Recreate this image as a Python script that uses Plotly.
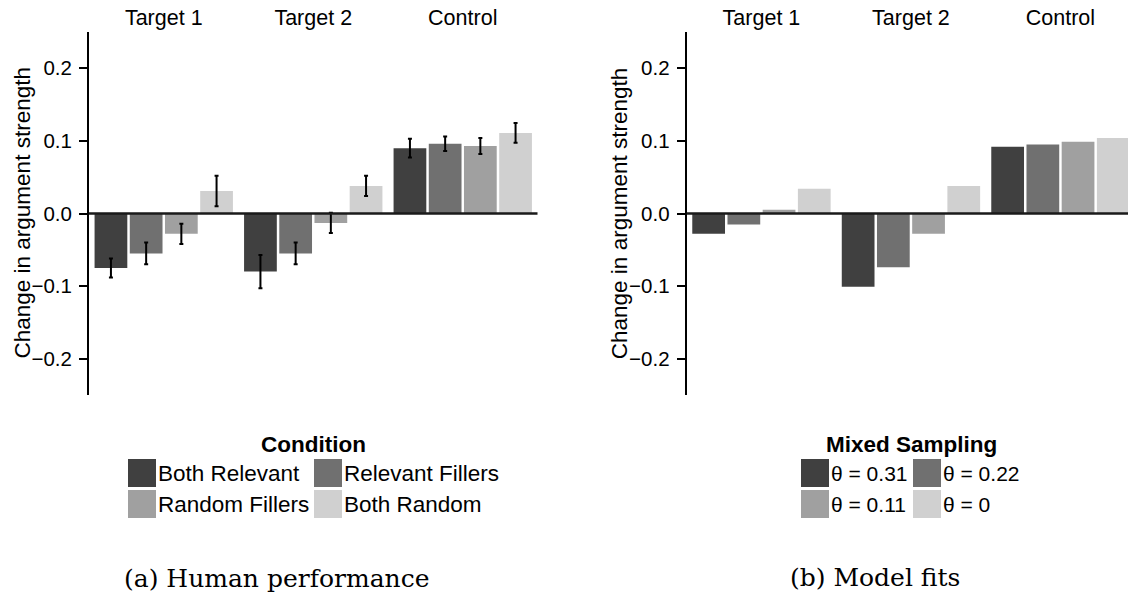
import plotly.graph_objects as go

W, H = 1128, 596

groups = ["Target 1", "Target 2", "Control"]
colors = ["#404040", "#707070", "#A0A0A0", "#D0D0D0"]
ytitle = "Change in argument strength"

# Panel (a): human performance
human_names = ["Both Relevant", "Relevant Fillers", "Random Fillers", "Both Random"]
human_both_relevant = [-0.075, -0.080, 0.090]
human_relevant_fillers = [-0.055, -0.055, 0.096]
human_random_fillers = [-0.028, -0.013, 0.093]
human_both_random = [0.031, 0.038, 0.111]
human_err_both_relevant = [0.013, 0.023, 0.013]
human_err_relevant_fillers = [0.015, 0.015, 0.010]
human_err_random_fillers = [0.014, 0.014, 0.011]
human_err_both_random = [0.021, 0.014, 0.0135]

# Panel (b): model fits
model_names = ["θ = 0.31", "θ = 0.22", "θ = 0.11", "θ = 0"]
model_031 = [-0.028, -0.101, 0.092]
model_022 = [-0.015, -0.074, 0.095]
model_011 = [0.005, -0.028, 0.099]
model_000 = [0.034, 0.038, 0.104]

yticks = [-0.2, -0.1, 0.0, 0.1, 0.2]
yticktext = ["\u22120.2", "\u22120.1", "0.0", "0.1", "0.2"]

human_vals = [human_both_relevant, human_relevant_fillers, human_random_fillers, human_both_random]
human_errs = [human_err_both_relevant, human_err_relevant_fillers, human_err_random_fillers, human_err_both_random]
model_vals = [model_031, model_022, model_011, model_000]

fig = go.Figure()
for name, vals, err, c in zip(human_names, human_vals, human_errs, colors):
    fig.add_trace(go.Bar(x=groups, y=vals, name=name, marker=dict(color=c, line=dict(width=0)),
                         error_y=dict(type="data", array=err, visible=True, color="black",
                                      thickness=2, width=2),
                         xaxis="x", yaxis="y", showlegend=False))
for name, vals, c in zip(model_names, model_vals, colors):
    fig.add_trace(go.Bar(x=groups, y=vals, name=name, marker=dict(color=c, line=dict(width=0)),
                         xaxis="x2", yaxis="y2", showlegend=False))

def px_x(p):
    return p / W

def px_y(p):
    return (H - p) / H

top, bot = 32, 395
unit = 149.5
L_ax = 89.0
R_ax = 686.7
left_dom = [px_x(L_ax), px_x(L_ax + 3 * unit)]
right_full_end = R_ax + 3 * unit
right_dom = [px_x(R_ax), 1.0]
right_range_end = 2.5 - (right_full_end - W) / unit

font = "Liberation Sans, Arial, Helvetica, sans-serif"

xcommon = dict(side="top", showline=False, ticks="", showgrid=False, zeroline=False,
               tickfont=dict(family=font, size=21.5, color="black"), ticklabelstandoff=2)
ycommon = dict(range=[-0.25, 0.25], tickvals=yticks, ticktext=yticktext, showline=True,
               linecolor="black", linewidth=2, ticks="outside", ticklen=8, tickwidth=2,
               tickcolor="black", showgrid=False, zeroline=False,
               tickfont=dict(family=font, size=20.5, color="black"), ticklabelstandoff=3)

fig.update_layout(
    width=W, height=H, margin=dict(l=0, r=0, t=0, b=0),
    paper_bgcolor="white", plot_bgcolor="white",
    barmode="group", bargap=0.058, bargroupgap=0.07,
    xaxis=dict(domain=left_dom, anchor="y", range=[-0.5, 2.5], **xcommon),
    yaxis=dict(domain=[px_y(bot), px_y(top)], anchor="x", **ycommon),
    xaxis2=dict(domain=right_dom, anchor="y2", range=[-0.5, right_range_end], **xcommon),
    yaxis2=dict(domain=[px_y(bot), px_y(top)], anchor="x2", **ycommon),
)

# y-axis titles
for ax in (L_ax, R_ax):
    fig.add_annotation(x=px_x(ax - 67), y=px_y(213.5), xref="paper", yref="paper", text=ytitle,
                       textangle=-90, showarrow=False, xanchor="center", yanchor="middle",
                       font=dict(family=font, size=22.5, color="black"))

# zero lines
for xr, yr in [("x domain", "y"), ("x2 domain", "y2")]:
    fig.add_shape(type="line", xref=xr, yref=yr, x0=0, x1=1, y0=0, y1=0,
                  line=dict(color="#1a1a1a", width=2.5), layer="above")

# manual legends
def add_legend(title, names, cx, col_x, text_x, tsize):
    fig.add_annotation(x=px_x(cx), y=px_y(445), xref="paper", yref="paper", text="<b>%s</b>" % title,
                       showarrow=False, xanchor="center", yanchor="middle",
                       font=dict(family=font, size=22.5, color="black"))
    rows = [(459, 487), (490, 518)]
    for i, (name, c) in enumerate(zip(names, colors)):
        r, col = divmod(i, 2)
        y0, y1 = rows[r]
        fig.add_shape(type="rect", xref="paper", yref="paper",
                      x0=px_x(col_x[col]), x1=px_x(col_x[col] + 28), y0=px_y(y1), y1=px_y(y0),
                      fillcolor=c, line=dict(width=0))
        fig.add_annotation(x=px_x(text_x[col]), y=px_y((y0 + y1) / 2), xref="paper", yref="paper",
                           text=name, showarrow=False, xanchor="left", yanchor="middle",
                           font=dict(family=font, size=tsize, color="black"))

add_legend("Condition", human_names, 313, [128, 314], [156, 342], 22.5)
add_legend("Mixed Sampling", model_names, 911, [801, 913], [829, 941], 21)

serif = "DejaVu Serif, Liberation Serif, serif"
fig.add_annotation(x=px_x(276.5), y=px_y(578), xref="paper", yref="paper", text="(a) Human performance",
                   showarrow=False, xanchor="center", yanchor="middle",
                   font=dict(family=serif, size=25, color="black"))
fig.add_annotation(x=px_x(875), y=px_y(577), xref="paper", yref="paper", text="(b) Model fits",
                   showarrow=False, xanchor="center", yanchor="middle",
                   font=dict(family=serif, size=25, color="black"))

fig.write_html("out.html", config={"displayModeBar": False},
               post_script="document.body.style.margin='0px';document.body.style.overflow='hidden';")
